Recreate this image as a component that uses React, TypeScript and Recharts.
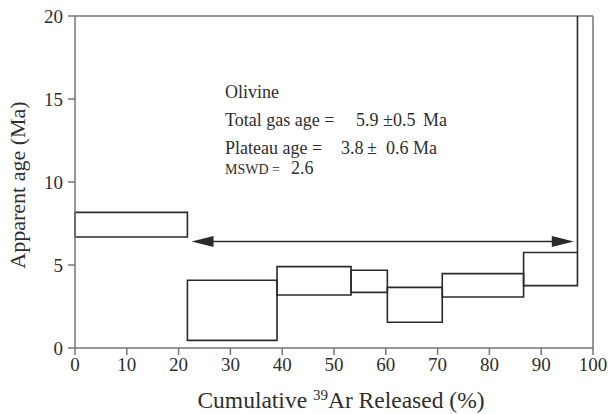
import React from 'react'
import {
  ComposedChart, XAxis, YAxis, ReferenceArea, ReferenceLine, Label,
} from 'recharts'

// Step boundaries (cumulative % 39Ar released) and the 1-sigma age envelope of each step
const stepEdges = [0, 21.7, 39.0, 53.3, 60.3, 70.9, 86.6, 97.0]
const upperAge = [8.17, 4.08, 4.9, 4.68, 3.65, 4.48, 5.75]
const lowerAge = [6.69, 0.46, 3.19, 3.35, 1.55, 3.07, 3.76]

// final step runs off the top of the plot
const lastStepX = 97.0
const lastStepFrom = 5.75
const lastStepTo = 20

// plateau arrow
const plateauStart = 22.5
const plateauEnd = 96.3
const plateauLevel = 6.42

const xTicks = [0, 10, 20, 30, 40, 50, 60, 70, 80, 90, 100]
const yTicks = [0, 5, 10, 15, 20]

const FONT = '"Liberation Serif", "DejaVu Serif", serif'
const INK = '#2a2a2a'
const AXIS = '#747474'
const TEXT = '#2e2e2e'

const steps = upperAge.map((u, i) => ({
  x1: stepEdges[i],
  x2: stepEdges[i + 1],
  upper: u,
  lower: lowerAge[i],
}))

function ArrowShape(props: any) {
  const { x1, y1, x2, y2 } = props
  const head = 22
  const half = 5.5
  return (
    <g>
      <line x1={x1 + head - 2} y1={y1} x2={x2 - head + 2} y2={y2} stroke={INK} strokeWidth={1.6} />
      <polygon points={`${x1},${y1} ${x1 + head},${y1 - half} ${x1 + head},${y1 + half}`} fill={INK} />
      <polygon points={`${x2},${y2} ${x2 - head},${y2 - half} ${x2 - head},${y2 + half}`} fill={INK} />
    </g>
  )
}

function XTitle(props: any) {
  const { x, y, width } = props.viewBox
  return (
    <text x={x + width / 2 + 7} y={y + 60} textAnchor="middle" fontFamily={FONT} fontSize={23.5} fill={TEXT}>
      Cumulative <tspan dy={-8} fontSize={15}>39</tspan>
      <tspan dy={8}>Ar Released (%)</tspan>
    </text>
  )
}

function YTitle() {
  const cx = 17
  const cy = 185
  return (
    <text
      x={cx} y={cy} textAnchor="middle" dominantBaseline="central"
      transform={`rotate(-90, ${cx}, ${cy})`}
      fontFamily={FONT} fontSize={22} fill={TEXT}
    >
      Apparent age (Ma)
    </text>
  )
}

// baseline-positioned annotation text
function Note({ x, base, size = 18, children }: { x: number; base: number; size?: number; children: React.ReactNode }) {
  return (
    <div
      style={{
        position: 'absolute',
        left: x,
        top: base - Math.round(size * 0.89),
        fontFamily: FONT,
        fontSize: size,
        lineHeight: 1,
        color: TEXT,
        whiteSpace: 'pre',
      }}
    >
      {children}
    </div>
  )
}

export default function App() {
  return (
    <div style={{ position: 'absolute', left: 0, top: 0, width: 608, height: 414, background: '#fff' }}>
      <ComposedChart
        width={608}
        height={414}
        data={steps}
        margin={{ top: 16, right: 15, bottom: 0, left: 0 }}
      >
        <XAxis
          type="number"
          dataKey="x1"
          domain={[0, 100]}
          ticks={xTicks}
          interval={0}
          height={66}
          stroke={AXIS}
          strokeWidth={1.5}
          tickSize={7}
          tickMargin={3}
          tick={{ fontSize: 19, fill: TEXT, fontFamily: FONT }}
        >
          <Label content={XTitle} />
        </XAxis>
        <YAxis
          type="number"
          dataKey="upper"
          domain={[0, 20]}
          ticks={yTicks}
          interval={0}
          width={75}
          stroke={AXIS}
          strokeWidth={1.5}
          tickSize={7}
          tickMargin={5}
          tick={{ fontSize: 19, fill: TEXT, fontFamily: FONT }}
        >
          <Label content={YTitle} />
        </YAxis>

        {/* frame */}
        <ReferenceLine y={20} stroke={AXIS} strokeWidth={1.5} ifOverflow="visible" />
        <ReferenceLine x={100} stroke={AXIS} strokeWidth={1.5} ifOverflow="visible" />

        {steps.map((s, i) => (
          <ReferenceArea
            key={i}
            x1={s.x1}
            x2={s.x2}
            y1={s.lower}
            y2={s.upper}
            fill="none"
            fillOpacity={0}
            stroke={INK}
            strokeWidth={1.6}
            ifOverflow="visible"
          />
        ))}

        <ReferenceLine
          segment={[{ x: lastStepX, y: lastStepFrom }, { x: lastStepX, y: lastStepTo }]}
          stroke={INK}
          strokeWidth={1.6}
          ifOverflow="visible"
        />

        <ReferenceLine
          segment={[{ x: plateauStart, y: plateauLevel }, { x: plateauEnd, y: plateauLevel }]}
          shape={ArrowShape}
          ifOverflow="visible"
        />
      </ComposedChart>

      <Note x={225} base={99}>Olivine</Note>
      <Note x={225} base={127}>Total gas age =</Note>
      <Note x={356} base={127}>5.9</Note>
      <Note x={383} base={127}>±</Note>
      <Note x={393} base={127}>0.5</Note>
      <Note x={423} base={127}>Ma</Note>
      <Note x={225} base={155}>Plateau age =</Note>
      <Note x={341} base={155}>3.8</Note>
      <Note x={367} base={155}>±</Note>
      <Note x={386} base={155}>0.6</Note>
      <Note x={413} base={155}>Ma</Note>
      <Note x={225} base={175} size={14}>MSWD =</Note>
      <Note x={291} base={175}>2.6</Note>
    </div>
  )
}
